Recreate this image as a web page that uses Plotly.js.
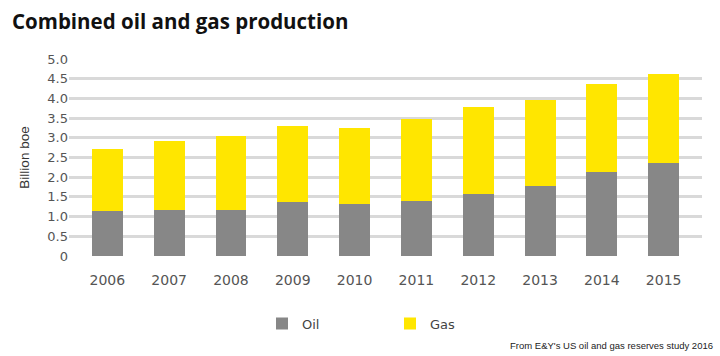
<!DOCTYPE html>
<html>
<head>
<meta charset="utf-8">
<script src="https://cdn.plot.ly/plotly-3.0.1.min.js"></script>
<style>html,body{margin:0;padding:0;background:#fff;}#chart{width:720px;height:356px;}</style>
</head>
<body>
<div id="chart"></div>
<script>
const years = ["2006","2007","2008","2009","2010","2011","2012","2013","2014","2015"];
const oil = [1.15, 1.18, 1.18, 1.37, 1.33, 1.39, 1.58, 1.77, 2.14, 2.35];
const gas = [1.56, 1.75, 1.86, 1.93, 1.93, 2.09, 2.19, 2.19, 2.23, 2.27];
const yTicks = [0, 0.5, 1.0, 1.5, 2.0, 2.5, 3.0, 3.5, 4.0, 4.5, 5.0];
const yTickText = ["0","0.5","1.0","1.5","2.0","2.5","3.0","3.5","4.0","4.5","5.0"];

const traces = [
  {type:'bar', name:'Oil', x:years, y:oil, marker:{color:'#878787'}, hoverinfo:'none'},
  {type:'bar', name:'Gas', x:years, y:gas, marker:{color:'#FFE600'}, hoverinfo:'none'}
];

const layout = {
  width:720, height:356,
  margin:{l:69, r:18, t:59, b:100},
  paper_bgcolor:'#fff', plot_bgcolor:'#fff',
  barmode:'stack', bargap:0.5,
  title:{text:'<b>Combined oil and gas production</b>', x:12/720, xanchor:'left', xref:'container',
         y:1-22/356, yanchor:'middle', yref:'container',
         font:{family:'Open Sans, DejaVu Sans, sans-serif', size:20.5, color:'#111'}},
  xaxis:{type:'category', range:[-0.62, 9.62], showgrid:false, zeroline:false, showline:false,
         ticks:'', tickfont:{family:'DejaVu Sans, sans-serif', size:14, color:'#555'}, ticklabelstandoff:14},
  yaxis:{range:[0,5], tickvals:yTicks, ticktext:yTickText, showgrid:true, gridcolor:'#d9d9d9', gridwidth:3,
         zeroline:false, showline:false, ticks:'',
         tickfont:{family:'DejaVu Sans, sans-serif', size:13, color:'#555'},
         title:{text:'Billion boe', standoff:14, font:{family:'Liberation Sans, Arial, sans-serif', size:13.5, color:'#333'}}},
  showlegend:true,
  legend:{orientation:'h', x:(262-69)/633, xanchor:'left', y:(255.7-323)/196.4, yanchor:'middle',
          entrywidth:83, entrywidthmode:'pixels', traceorder:'normal',
          font:{family:'DejaVu Sans, sans-serif', size:13, color:'#444'}},
  annotations:[{text:"From E&Y's US oil and gas reserves study 2016", xref:'paper', yref:'paper',
                x:(715-69)/633, xanchor:'right', y:(255.7-345)/196.4, yanchor:'middle', showarrow:false,
                font:{family:'Liberation Sans, Arial, sans-serif', size:9.5, color:'#222'}}]
};
Plotly.newPlot('chart', traces, layout, {staticPlot:true, displayModeBar:false});
</script>
</body>
</html>
